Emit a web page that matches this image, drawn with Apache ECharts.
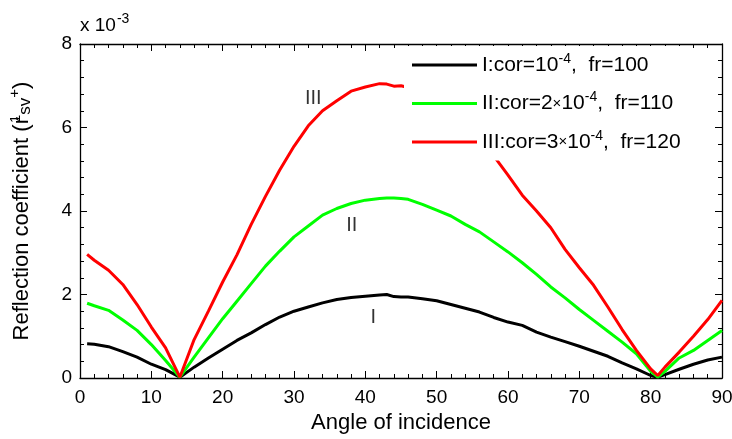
<!DOCTYPE html>
<html>
<head>
<meta charset="utf-8">
<script src="https://cdn.jsdelivr.net/npm/echarts@6/dist/echarts.min.js"></script>
<style>html,body{margin:0;padding:0;background:#fff}#c{width:732px;height:439px}</style>
</head>
<body>
<div id="c"></div>
<script>
// Angle of incidence (degrees)
var angles = [1,2,4,6,8,10,12,14,16,18,20,22,24,26,28,30,32,34,36,38,40,42,43,44,45,46,48,50,52,54,56,58,60,62,64,66,68,70,72,74,76,78,80,81,82,84,86,88,90];
// Reflection coefficient values (x 10^-3)
var seriesI = [0.82,0.81,0.75,0.63,0.50,0.33,0.20,0.02,0.26,0.48,0.69,0.90,1.08,1.28,1.46,1.60,1.70,1.80,1.88,1.93,1.96,1.99,2.00,1.95,1.94,1.94,1.90,1.85,1.76,1.67,1.58,1.45,1.34,1.26,1.10,0.98,0.87,0.76,0.64,0.52,0.36,0.22,0.06,0.02,0.08,0.21,0.33,0.43,0.50];
var seriesII = [1.79,1.73,1.62,1.39,1.14,0.80,0.42,0.02,0.50,0.96,1.42,1.84,2.26,2.68,3.04,3.38,3.64,3.90,4.06,4.18,4.26,4.30,4.31,4.31,4.30,4.28,4.16,4.02,3.88,3.68,3.50,3.26,3.02,2.76,2.48,2.18,1.92,1.64,1.38,1.12,0.86,0.58,0.16,0.02,0.16,0.48,0.66,0.90,1.14];
var seriesIII = [2.96,2.82,2.58,2.24,1.76,1.22,0.72,0.02,0.92,1.60,2.30,2.95,3.68,4.35,4.98,5.55,6.04,6.40,6.64,6.87,6.97,7.05,7.04,6.99,7.00,6.96,6.78,6.55,6.30,6.02,5.70,5.32,4.86,4.38,4.00,3.60,3.08,2.64,2.22,1.70,1.16,0.66,0.22,0.06,0.26,0.62,1.00,1.40,1.86];
var seriesNames = ['I','II','III'];
var seriesColors = ['#000000','#00ff00','#ff0000'];
var legendTexts = {
  'I': 'I:cor=10{sup|-4},  fr=100',
  'II': 'II:cor=2{x|\u00d7}10{sup|-4},  fr=110',
  'III': 'III:cor=3{x|\u00d7}10{sup|-4},  fr=120'
};
// curve labels (data coordinates)
var labelNames = ['III','II','I'];
var labelX = [32.7, 38.1, 41.1];
var labelY = [6.70, 3.66, 1.45];

var FONT = 'Liberation Sans';
function pairs(vals){ return angles.map(function(a,i){ return [a, vals[i]]; }); }
var allVals = [seriesI, seriesII, seriesIII];

var series = seriesNames.map(function(n, i){
  return {
    name: n, type: 'line', data: pairs(allVals[i]), showSymbol: false, symbol: 'none',
    lineStyle: { color: seriesColors[i], width: 3 }, itemStyle: { color: seriesColors[i] },
    z: 2, animation: false
  };
});
series.push({
  name: 'labels', type: 'scatter', symbolSize: 0, animation: false, silent: true,
  data: labelNames.map(function(n, i){ return { name: n, value: [labelX[i], labelY[i]] }; }),
  label: { show: true, position: 'inside', formatter: function(p){ return p.name; },
           color: '#000', fontFamily: FONT, fontSize: 20 },
  z: 3
});

function tick(){ return { show: true, inside: true, length: 7, lineStyle: { color: '#000', width: 1, opacity: 1 } }; }
function minor(){ return { show: true, splitNumber: 5, length: 4, lineStyle: { color: '#000', width: 1, opacity: 1 } }; }
function line(){ return { show: true, onZero: false, lineStyle: { color: '#000', width: 1.3 } }; }

var chart = echarts.init(document.getElementById('c'), null, { renderer: 'canvas' });
chart.setOption({
  animation: false,
  backgroundColor: '#fff',
  grid: { left: 80, right: 10, top: 44, bottom: 61, containLabel: false, outerBoundsMode: 'none' },
  legend: {
    data: seriesNames, orient: 'vertical', left: 404, top: 46,
    backgroundColor: '#fff', padding: [6, 10, 8, 8], itemGap: 15,
    itemWidth: 65, itemHeight: 14, z: 10, icon: 'path://M0,6 L65,6 L65,9 L0,9 Z',
    textStyle: { fontFamily: FONT, fontSize: 21, color: '#000',
      rich: { sup: { fontSize: 14, verticalAlign: 'top', padding: [0,0,12,0], fontFamily: FONT, color: '#000' },
              x: { fontSize: 15, fontFamily: FONT, color: '#000' } } },
    formatter: function(n){ return legendTexts[n]; }
  },
  graphic: [{
    type: 'text', left: 80, top: 12, z: 10,
    style: { text: 'x 10{sup|-3}', fill: '#000', font: '19px "Liberation Sans"',
      rich: { sup: { fontSize: 14, fontFamily: FONT, padding: [0,0,14,1], fill: '#000' } } }
  }],
  xAxis: [{
    type: 'value', min: 0, max: 90, interval: 10, position: 'bottom',
    name: 'Angle of incidence', nameLocation: 'middle', nameGap: 32,
    nameTextStyle: { fontFamily: FONT, fontSize: 22, color: '#000' },
    axisLine: line(), axisTick: tick(), minorTick: minor(),
    splitLine: { show: false }, minorSplitLine: { show: false },
    axisLabel: { fontFamily: FONT, fontSize: 19, color: '#000', margin: 10 }
  }, {
    type: 'value', min: 0, max: 90, interval: 10, position: 'top',
    axisLine: line(), axisTick: tick(), minorTick: minor(),
    splitLine: { show: false }, axisLabel: { show: false }
  }],
  yAxis: [{
    type: 'value', min: 0, max: 8, interval: 2, position: 'left',
    name: 'Reflection coefficient ({r|r}{s1|1}{sub|sv}{sup|+})', nameLocation: 'middle', nameGap: 44,
    nameTextStyle: { fontFamily: FONT, fontSize: 22, color: '#000',
      rich: { r: { fontFamily: FONT, fontSize: 22, color: '#000' },
              s1: { fontFamily: FONT, fontSize: 15, color: '#000', padding: [0,0,12,-6] },
              sub: { fontFamily: FONT, fontSize: 17, color: '#000', padding: [8,0,0,0] },
              sup: { fontFamily: FONT, fontSize: 15, color: '#000', padding: [0,0,14,0] } } },
    axisLine: line(), axisTick: tick(), minorTick: minor(),
    splitLine: { show: false }, minorSplitLine: { show: false },
    axisLabel: { fontFamily: FONT, fontSize: 19, color: '#000', margin: 8 }
  }, {
    type: 'value', min: 0, max: 8, interval: 2, position: 'right',
    axisLine: line(), axisTick: tick(), minorTick: minor(),
    splitLine: { show: false }, axisLabel: { show: false }
  }],
  series: series
});
</script>
</body>
</html>
